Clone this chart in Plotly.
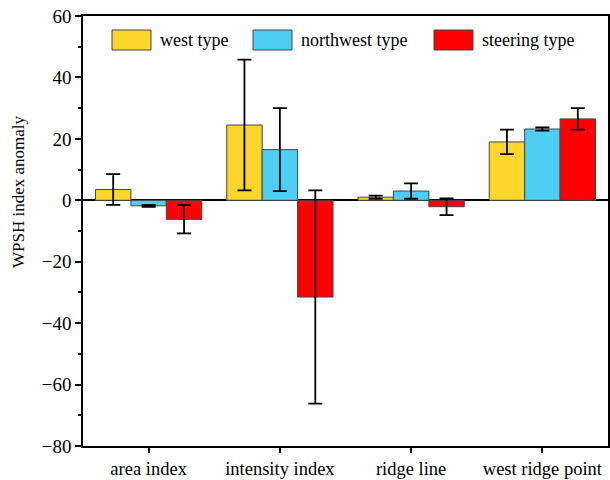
import plotly.graph_objects as go

categories = ["area index", "intensity index", "ridge line", "west ridge point"]
series_names = ["west type", "northwest type", "steering type"]
west_vals = [3.5, 24.5, 1.0, 19.0]
west_err = [5.0, 21.3, 0.5, 4.0]
northwest_vals = [-1.8, 16.5, 3.0, 23.2]
northwest_err = [0.3, 13.5, 2.5, 0.5]
steering_vals = [-6.2, -31.5, -2.1, 26.5]
steering_err = [4.6, 34.7, 2.7, 3.5]
y_tickvals = [-80, -60, -40, -20, 0, 20, 40, 60]
y_ticktext = ["\u221280", "\u221260", "\u221240", "\u221220", "0", "20", "40", "60"]

colors = ["#FCD62A", "#4CCEF5", "#FF0000"]
values = [west_vals, northwest_vals, steering_vals]
errors = [west_err, northwest_err, steering_err]

font = '"Times New Roman", "Liberation Serif", serif'
W, H = 610, 480
L, R, T, B = 83, 2, 16, 34
pw, ph = W - L - R, H - T - B


def px(x):
    return (x - L) / pw


def py(y):
    return (H - B - y) / ph


fig = go.Figure()
for name, v, e, c in zip(series_names, values, errors, colors):
    fig.add_trace(go.Bar(
        x=categories, y=v, name=name,
        marker=dict(color=c, line=dict(color="#444444", width=1)),
        error_y=dict(type="data", array=e, visible=True, color="black",
                     thickness=1.8, width=7),
    ))

# custom legend (larger boxes as in the reference)
legend_box_x = [112, 253, 434]
shapes, annots = [], []
for name, c, bx in zip(series_names, colors, legend_box_x):
    shapes.append(dict(type="rect", xref="paper", yref="paper",
                       x0=px(bx), x1=px(bx + 39), y0=py(50), y1=py(30),
                       fillcolor=c, line=dict(color="#444444", width=1)))
    annots.append(dict(text=name, xref="paper", yref="paper",
                       x=px(bx + 46), y=py(40), xanchor="left", yanchor="middle",
                       showarrow=False, font=dict(family=font, size=18, color="black")))
annots.append(dict(text="WPSH index anomaly", xref="paper", yref="paper",
                   x=px(18), y=py(192), textangle=-90, showarrow=False,
                   xanchor="center", yanchor="middle",
                   font=dict(family=font, size=17, color="black")))

fig.update_layout(
    template="none",
    width=W, height=H,
    margin=dict(l=L, r=R, t=T, b=B, autoexpand=False),
    paper_bgcolor="white", plot_bgcolor="white",
    barmode="group", bargap=0.19, bargroupgap=0,
    font=dict(family=font, size=18, color="black"),
    showlegend=False,
    shapes=shapes, annotations=annots,
    xaxis=dict(showline=True, linecolor="black", linewidth=1.5, mirror=True,
               ticks="outside", ticklen=5, tickcolor="black", tickwidth=1.5,
               range=[-0.5, 3.5], tickfont=dict(family=font, size=18.5),
               showgrid=False, automargin=False),
    yaxis=dict(range=[-80, 60], tickvals=y_tickvals, ticktext=y_ticktext,
               ticksuffix="\u00a0\u2009",
               showline=True, linecolor="black",
               linewidth=1.5, mirror=True, ticks="outside", ticklen=6,
               tickcolor="black", tickwidth=1.5, showgrid=False,
               zeroline=True, zerolinecolor="black", zerolinewidth=1.5,
               minor=dict(tickvals=[-70, -50, -30, -10, 10, 30, 50], ticks="outside",
                          ticklen=3, tickcolor="black"),
               tickfont=dict(family=font, size=19), automargin=False),
)

fig.write_html("out.html", config={"displayModeBar": False},
               post_script="document.body.style.margin='0px';")
